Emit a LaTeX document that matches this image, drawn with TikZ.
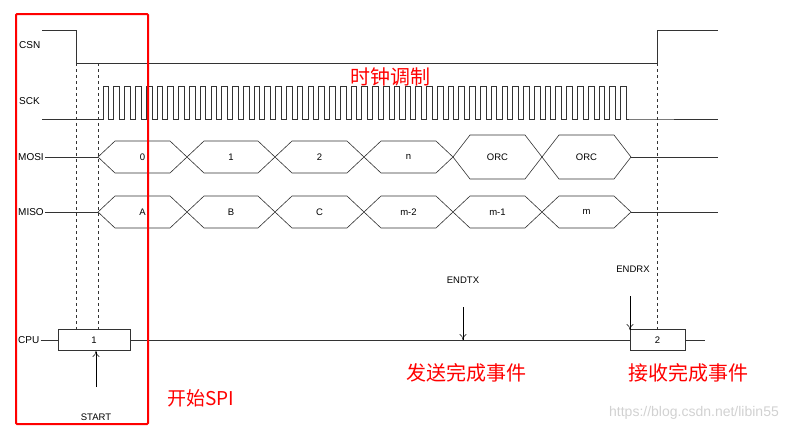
\documentclass[tikz,border=0pt]{standalone}
\usepackage{fontspec}
\setmainfont{Liberation Sans}
\newfontfamily\cjk{Noto Sans CJK SC}
\usetikzlibrary{positioning,arrows.meta}

\tikzset{
	timingpicture/.style = {
		x = 1pt,
		y = -1pt,
		every node/.style = {font = \fontsize{9.5}{11}\selectfont, inner sep = 1pt},
		wave/.style = {
			draw = black!80,
			line width = 0.6pt
		},
		arrow/.style = {
			draw,
			-{To[length=6pt,width=7pt]},
			line width = 0.5pt
		}
	},
	signame/.style = {
		anchor = west,
		font = \fontsize{10}{12}\selectfont
	},
	cpubox/.style = {
		draw = black!80,
		line width = 0.6pt,
		minimum height = 21pt,
		inner sep = 0pt
	},
	note/.style = {
		text = red,
		font = \cjk\fontsize{20}{22}\selectfont
	},
	guide/.style = {
		draw = black!80,
		dashed,
		line width = 0.5pt
	}
}

\begin{document}
\begin{tikzpicture}[timingpicture]
	\useasboundingbox (0,0) rectangle (798,432);

	\node[signame] (CSN) at (18,45) {CSN};
	\node[signame] (SCK) at (18,101) {SCK};
	\node[signame] (MOSI) at (17,157) {MOSI};
	\node[signame] (MISO) at (17,212) {MISO};
	\node[signame] (CPU) at (17,340) {CPU};

	% chip select
	\draw[wave] (42,30) -- (76,30) -- (76,63) -- (657,63) -- (657,30) -- (718,30);

	% clock
	\draw[wave] (42,119) -- (103,119)
		\foreach \i in {0,...,48} {
			-- ++(0,-33) -- ++(5.7,0) -- ++(0,33) -- ++(5.08,0)
		} -- (718,119);

	% data lanes
	\draw[wave] (MOSI.east) -- (98,157);
	\draw[wave] (MISO.east) -- (98,212);
	\foreach \a/\b/\h/\t in {98/187/16/0, 187/275/16/1, 275/364/16/2,
			364/453/16/n, 453/542/22/ORC, 542/631/22/ORC} {
		\draw[wave] (\a,157) -- (\a+17,157-\h) -- (\b-17,157-\h) -- (\b,157)
			-- (\b-17,157+\h) -- (\a+17,157+\h) -- cycle;
		\node (mosi-\a) at ({(\a+\b)/2},157) {\t};
	}
	\foreach \a/\b/\t in {98/187/A, 187/275/B, 275/364/C,
			364/453/m-2, 453/542/m-1, 542/631/m} {
		\draw[wave] (\a,212) -- (\a+17,196) -- (\b-17,196) -- (\b,212)
			-- (\b-17,228) -- (\a+17,228) -- cycle;
		\node (miso-\a) at ({(\a+\b)/2},212) {\t};
	}
	\draw[wave] (631,157) -- (718,157);
	\draw[wave] (631,212) -- (718,212);

	% cpu
	\node[cpubox, minimum width = 72pt] (B1) at (94,340) {1};
	\node[cpubox, minimum width = 55pt] (B2) at (657.5,340) {2};
	\draw[wave] (CPU.east) -- (B1.west);
	\draw[wave] (B1.east) -- (B2.west);
	\draw[wave] (B2.east) -- (705,340);

	\draw[guide] (76,63) -- (76,330);
	\draw[guide] (98,63) -- (98,330);
	\draw[guide] (657,63) -- (657,330);

	\node (START) at (96,417) {START};
	\node (ENDTX) at (463,280) {ENDTX};
	\node (ENDRX) at (633,269) {ENDRX};
	\coordinate (start-tail) at (96,387);
	\coordinate (tx-tail) at (463,307);
	\coordinate (tx-head) at (463,340);
	\coordinate (rx-tail) at (630,296);
	\path[arrow] (start-tail) -- (96,351);
	\path[arrow] (tx-tail) -- (tx-head);
	\path[arrow] (rx-tail) -- (630,330);

	% notes
	\draw[red, line width = 2pt, rounded corners = 1pt] (16,14) rectangle (148,424);
	\node[note] (clk) at (390,77) {时钟调制};
	\node[note, font = \cjk\fontsize{19}{21}\selectfont] (spi) at (201,398) {开始SPI};
	\node[note] (txdone) at (466,373) {发送完成事件};
	\node[note] (rxdone) at (688,373) {接收完成事件};
	\node[text = black!18, font = \fontsize{14}{16}\selectfont] (mark) at (694,413) {https://blog.csdn.net/libin55};
\end{tikzpicture}
\end{document}
